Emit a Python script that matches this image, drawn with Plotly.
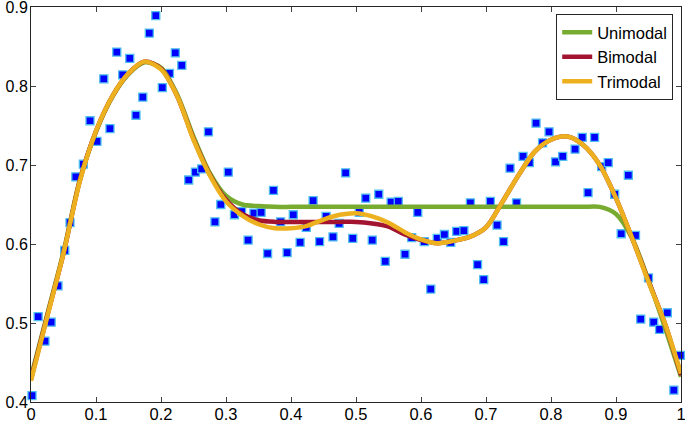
import plotly.graph_objects as go

# scattered measurements
data_x = [0.0015, 0.011, 0.0215, 0.031, 0.0415, 0.052, 0.060, 0.069, 0.0805, 0.0908,
          0.1015, 0.112, 0.1215, 0.132, 0.141, 0.152, 0.1615, 0.172, 0.182, 0.192,
          0.202, 0.213, 0.222, 0.232, 0.2426, 0.253, 0.2626, 0.273, 0.283, 0.292,
          0.3035, 0.313, 0.324, 0.334, 0.343, 0.354, 0.364, 0.373, 0.384, 0.394,
          0.4035, 0.414, 0.4235, 0.434, 0.444, 0.454, 0.4646, 0.474, 0.484, 0.495,
          0.505, 0.515, 0.525, 0.535, 0.545, 0.554, 0.565, 0.5754, 0.5857, 0.595,
          0.605, 0.615, 0.625, 0.636, 0.6457, 0.655, 0.666, 0.676, 0.687, 0.6965,
          0.7067, 0.717, 0.727, 0.737, 0.747, 0.757, 0.7667, 0.777, 0.787, 0.797,
          0.807, 0.818, 0.828, 0.837, 0.848, 0.857, 0.867, 0.878, 0.888, 0.898,
          0.908, 0.919, 0.930, 0.938, 0.950, 0.958, 0.967, 0.979, 0.989, 0.999]
data_y = [0.408, 0.508, 0.477, 0.501, 0.547, 0.592, 0.627, 0.685, 0.701, 0.756,
          0.730, 0.809, 0.746, 0.843, 0.814, 0.835, 0.763, 0.786, 0.867, 0.889,
          0.798, 0.816, 0.842, 0.826, 0.681, 0.691, 0.695, 0.742, 0.628, 0.650,
          0.691, 0.637, 0.641, 0.605, 0.639, 0.640, 0.588, 0.668, 0.628, 0.589,
          0.637, 0.602, 0.621, 0.655, 0.603, 0.635, 0.609, 0.626, 0.690, 0.607,
          0.640, 0.658, 0.605, 0.663, 0.578, 0.653, 0.654, 0.587, 0.608, 0.640,
          0.603, 0.543, 0.607, 0.612, 0.602, 0.616, 0.617, 0.652, 0.574, 0.555,
          0.654, 0.624, 0.603, 0.696, 0.652, 0.711, 0.703, 0.753, 0.728, 0.742,
          0.704, 0.711, 0.789, 0.720, 0.735, 0.665, 0.735, 0.698, 0.703, 0.663,
          0.613, 0.687, 0.611, 0.505, 0.557, 0.501, 0.492, 0.513, 0.415, 0.459]

# fitted curves
fit_x = [0, 0.025, 0.05, 0.075, 0.1, 0.125, 0.15, 0.175, 0.2, 0.225,
         0.25, 0.275, 0.3, 0.325, 0.35, 0.375, 0.4, 0.425, 0.45, 0.475,
         0.5, 0.525, 0.55, 0.575, 0.6, 0.625, 0.65, 0.675, 0.7, 0.725,
         0.75, 0.775, 0.8, 0.825, 0.85, 0.875, 0.9, 0.925, 0.95, 0.975, 1.0]
unimodal = [0.432, 0.511, 0.590, 0.681, 0.742, 0.786, 0.815, 0.830, 0.823, 0.789,
            0.736, 0.690, 0.661, 0.650, 0.648, 0.647, 0.647, 0.647, 0.647, 0.647,
            0.647, 0.647, 0.647, 0.647, 0.647, 0.647, 0.647, 0.647, 0.647, 0.647,
            0.647, 0.647, 0.647, 0.647, 0.647, 0.647, 0.638, 0.607, 0.554, 0.495, 0.432]
bimodal = [0.429, 0.509, 0.588, 0.680, 0.743, 0.787, 0.816, 0.831, 0.822, 0.787,
           0.733, 0.688, 0.656, 0.638, 0.630, 0.628, 0.628, 0.628, 0.628, 0.628,
           0.628, 0.626, 0.622, 0.612, 0.605, 0.601, 0.604, 0.609, 0.621, 0.653,
           0.687, 0.717, 0.732, 0.736, 0.725, 0.700, 0.658, 0.607, 0.553, 0.500, 0.434]
trimodal = [0.427, 0.508, 0.588, 0.679, 0.743, 0.787, 0.816, 0.831, 0.821, 0.787,
            0.732, 0.687, 0.654, 0.636, 0.625, 0.620, 0.620, 0.623, 0.631, 0.637,
            0.639, 0.635, 0.627, 0.615, 0.606, 0.601, 0.604, 0.609, 0.621, 0.653,
            0.687, 0.717, 0.732, 0.736, 0.725, 0.700, 0.658, 0.607, 0.552, 0.500, 0.436]

y_ticks = [0.4, 0.5, 0.6, 0.7, 0.8, 0.9]
y_labels = ["0.4", "0.5", "0.6", "0.7", "0.8", "0.9"]
x_ticks = [0, 0.1, 0.2, 0.3, 0.4, 0.5, 0.6, 0.7, 0.8, 0.9, 1]
x_labels = ["0", "0.1", "0.2", "0.3", "0.4", "0.5", "0.6", "0.7", "0.8", "0.9", "1"]

fig = go.Figure()

fig.add_trace(go.Scatter(
    x=data_x, y=data_y, mode="markers", showlegend=False, cliponaxis=False,
    marker=dict(symbol="square", size=8, color="#0000FF",
                line=dict(color="#4DBEEE", width=1.3))
))

for name, ys, color in [("Unimodal", unimodal, "#77AC30"),
                        ("Bimodal", bimodal, "#A2142F"),
                        ("Trimodal", trimodal, "#EDB120")]:
    fig.add_trace(go.Scatter(
        x=fit_x, y=ys, mode="lines", name=name,
        line=dict(color=color, width=4.5, shape="spline", smoothing=0.8)
    ))

axis_style = dict(
    showline=True, linecolor="#262626", linewidth=1, mirror="ticks",
    ticks="inside", ticklen=5, tickcolor="#404040", tickwidth=1,
    showgrid=False, zeroline=False, automargin=False,
    ticklabeloverflow="allow",
)

fig.update_layout(
    width=685, height=428,
    margin=dict(l=31, r=4, t=7, b=26, autoexpand=False),
    paper_bgcolor="white", plot_bgcolor="white",
    xaxis=dict(range=[0, 1], tickvals=x_ticks, ticktext=x_labels,
               ticklabelstandoff=-3,
               tickfont=dict(family="Liberation Sans, Arial", size=16.5, color="#000000"),
               **axis_style),
    yaxis=dict(range=[0.4, 0.9], tickvals=y_ticks, ticktext=y_labels,
               ticklabelstandoff=-1,
               tickfont=dict(family="Liberation Sans, Arial", size=16, color="#000000"),
               **axis_style),
    legend=dict(x=0.988, y=0.982, xanchor="right", yanchor="top",
                bgcolor="white", bordercolor="#262626", borderwidth=1,
                font=dict(family="Liberation Sans, Arial", size=16.5, color="#000000"),
                itemwidth=30, tracegroupgap=0),
)

# drop the browser's default body margin so the figure sits at the page corner
fig.write_html("out.html", config={"displayModeBar": False},
               post_script="document.body.style.margin='0';")
